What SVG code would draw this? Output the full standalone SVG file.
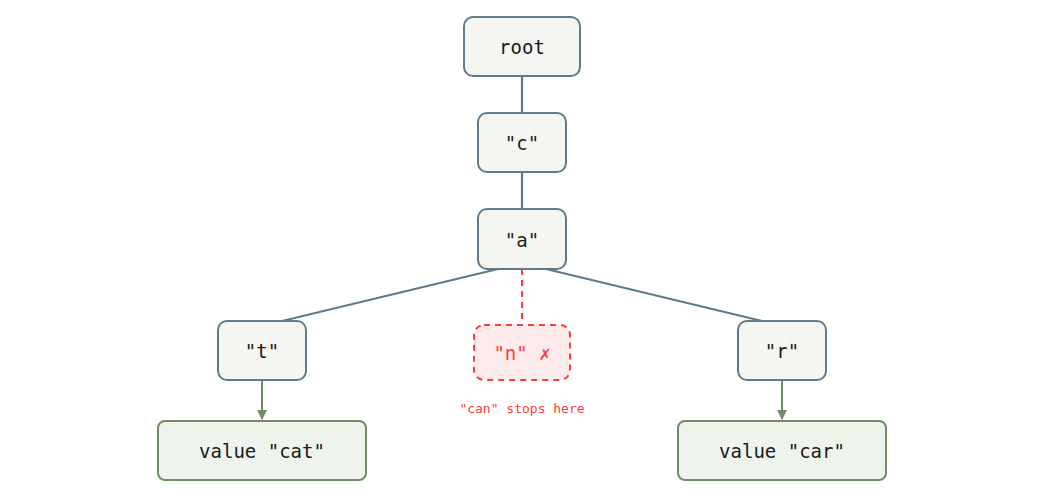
<svg xmlns="http://www.w3.org/2000/svg" width="1045" height="500" viewBox="0 0 1045 500">
<style>
.n rect{fill:#f5f6f1;stroke:#5f7b8a;stroke-width:2}
.v rect{fill:#eef3ec;stroke:#6e8d65;stroke-width:2}
text{font-family:"DejaVu Sans Mono",monospace;font-size:19px;fill:#1a1a1a;text-anchor:middle;dominant-baseline:central}
.e{stroke:#5f7b8a;stroke-width:2.2;fill:none}
.g{stroke:#6e8d65;stroke-width:2;fill:none}
</style>
<defs><marker id="ah" viewBox="0 0 10 10" refX="9" refY="5" markerWidth="5" markerHeight="5" orient="auto"><path d="M0,0L10,5L0,10z" fill="#6e8d65"/></marker></defs>
<g id="connectors">
<line class="e" x1="522" y1="76" x2="522" y2="113"/>
<line class="e" x1="522" y1="172" x2="522" y2="209"/>
<line class="e" x1="498" y1="269" x2="282" y2="321"/>
<line class="e" x1="546" y1="269" x2="762" y2="321"/>
<line x1="522" y1="269" x2="522" y2="325" stroke="#ff3b3b" stroke-width="2" stroke-dasharray="6,5"/>
<line class="g" x1="262" y1="380" x2="262" y2="419" marker-end="url(#ah)"/>
<line class="g" x1="782" y1="380" x2="782" y2="419" marker-end="url(#ah)"/>
</g>
<g id="root" class="n"><rect x="464" y="17" width="116" height="59" rx="9"/><text x="522" y="47">root</text></g>
<g id="c" class="n"><rect x="478" y="113" width="88" height="59" rx="9"/><text x="522" y="143">"c"</text></g>
<g id="a" class="n"><rect x="478" y="209" width="88" height="60" rx="9"/><text x="522" y="240">"a"</text></g>
<g id="t" class="n"><rect x="218" y="321" width="88" height="59" rx="9"/><text x="262" y="351">"t"</text></g>
<g id="r" class="n"><rect x="738" y="321" width="88" height="59" rx="9"/><text x="782" y="351">"r"</text></g>
<g id="n"><rect x="474" y="325" width="96" height="55" rx="10" fill="#fcebea" stroke="#ff3b3b" stroke-width="2" stroke-dasharray="6,5"/><text x="522" y="353" style="fill:#ff3b3b">"n" ✗</text><text x="522" y="408" style="fill:#ff3b3b;font-size:13px">"can" stops here</text></g>
<g id="cat" class="v"><rect x="158" y="421" width="208" height="59" rx="7"/><text x="262" y="451">value "cat"</text></g>
<g id="car" class="v"><rect x="678" y="421" width="208" height="59" rx="7"/><text x="782" y="451">value "car"</text></g>
</svg>
